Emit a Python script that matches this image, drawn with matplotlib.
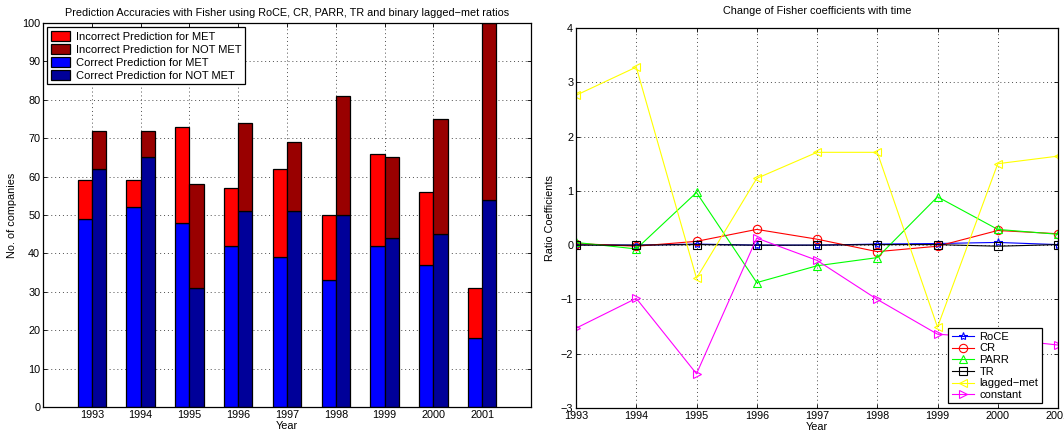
import numpy as np
import matplotlib
matplotlib.use("Agg")
import matplotlib.pyplot as plt
from matplotlib.patches import Patch

plt.rcParams['font.family'] = ['Liberation Sans', 'DejaVu Sans']
plt.rcParams['font.size'] = 7.8

years = [1993, 1994, 1995, 1996, 1997, 1998, 1999, 2000, 2001]

# companies per year: correct predictions and totals (bar tops)
met_correct = [49, 52, 48, 42, 39, 33, 42, 37, 18]
met_total = [59, 59, 73, 57, 62, 50, 66, 56, 31]
notmet_correct = [62, 65, 31, 51, 51, 50, 44, 45, 54]
notmet_total = [72, 72, 58, 74, 69, 81, 65, 75, 100]

# Fisher coefficients per year
roce = [0.01, 0.0, 0.02, 0.0, 0.0, 0.02, 0.03, 0.05, 0.01]
cr = [0.03, -0.02, 0.07, 0.29, 0.11, -0.12, -0.02, 0.27, 0.21]
parr = [0.05, -0.07, 0.97, -0.69, -0.38, -0.23, 0.89, 0.29, 0.20]
tr = [0.0, 0.0, 0.01, 0.0, 0.0, 0.01, 0.01, -0.02, 0.01]
lagged = [2.76, 3.28, -0.61, 1.23, 1.71, 1.71, -1.51, 1.50, 1.64]
const = [-1.53, -0.98, -2.37, 0.13, -0.28, -1.00, -1.64, -1.72, -1.84]

W, H = 1064, 438
fig = plt.figure(figsize=(W / 100, H / 100), dpi=100)

def box(x0, y0, x1, y1):
    return [x0 / W, 1 - y1 / H, (x1 - x0) / W, (y1 - y0) / H]

def matlab_style(ax):
    ax.tick_params(direction='in', top=True, right=True, length=3, width=0.6, pad=2)
    ax.grid(True, linestyle=(0, (1, 3)), color='0.3', linewidth=0.7)
    ax.set_axisbelow(True)
    for s in ax.spines.values():
        s.set_linewidth(0.9)

# bar chart
ax1 = fig.add_axes(box(43, 23, 531, 407))
x = np.array(years)
met_c = np.array(met_correct)
met_i = np.array(met_total) - met_c
nm_c = np.array(notmet_correct)
nm_i = np.array(notmet_total) - nm_c
w = 0.29
ek = dict(edgecolor='k', linewidth=0.9)
ax1.bar(x - w / 2, met_c, w, color=(0, 0, 1), **ek)
ax1.bar(x - w / 2, met_i, w, bottom=met_c, color=(1, 0, 0), **ek)
ax1.bar(x + w / 2, nm_c, w, color=(0, 0, 0.6), **ek)
ax1.bar(x + w / 2, nm_i, w, bottom=nm_c, color=(0.6, 0, 0), **ek)
ax1.set_xlim(1992, 2002)
ax1.set_ylim(0, 100)
ax1.set_xticks(years)
ax1.set_yticks(range(0, 101, 10))
matlab_style(ax1)
ax1.set_xlabel('Year', labelpad=1)
ax1.set_ylabel('No. of companies', labelpad=4)
ax1.set_title('Prediction Accuracies with Fisher using RoCE, CR, PARR, TR and binary lagged\u2212met ratios',
              fontsize=7.8, pad=5)
handles = [Patch(facecolor=(1, 0, 0), **ek), Patch(facecolor=(0.6, 0, 0), **ek),
           Patch(facecolor=(0, 0, 1), **ek), Patch(facecolor=(0, 0, 0.6), **ek)]
labels = ['Incorrect Prediction for MET', 'Incorrect Prediction for NOT MET',
          'Correct Prediction for MET', 'Correct Prediction for NOT MET']
leg = ax1.legend(handles, labels, loc='upper left', fontsize=8, fancybox=False,
                 framealpha=1, edgecolor='k', borderaxespad=0.4, handlelength=1.7,
                 handleheight=1.0, labelspacing=0.2, borderpad=0.3, handletextpad=0.6)
leg.get_frame().set_linewidth(0.9)

# coefficient lines
ax2 = fig.add_axes(box(576, 28, 1058, 408))
mk = dict(markerfacecolor='none', markersize=6, linewidth=0.8, markeredgewidth=0.8)
ax2.plot(years, roce, '-*', color=(0, 0, 1), label='RoCE', **mk)
ax2.plot(years, cr, '-o', color=(1, 0, 0), label='CR', **mk)
ax2.plot(years, parr, '-^', color=(0, 1, 0), label='PARR', **mk)
ax2.plot(years, tr, '-s', color='k', label='TR', **mk)
ax2.plot(years, lagged, '-<', color=(1, 1, 0), label='lagged\u2212met', **mk)
ax2.plot(years, const, '->', color=(1, 0, 1), label='constant', **mk)
ax2.set_xlim(1993, 2001)
ax2.set_ylim(-3, 4)
ax2.set_xticks(years)
ax2.set_yticks(range(-3, 5))
matlab_style(ax2)
ax2.set_xlabel('Year', labelpad=1)
ax2.set_ylabel('Ratio Coefficients', labelpad=4)
ax2.set_title('Change of Fisher coefficients with time', fontsize=7.8, pad=10)
leg2 = ax2.legend(loc='lower right', fontsize=8, fancybox=False, framealpha=1,
                  edgecolor='k', bbox_to_anchor=(0.966, 0.012), borderaxespad=0,
                  handlelength=2.0, labelspacing=0.15, borderpad=0.3, handletextpad=0.5)
leg2.get_frame().set_linewidth(0.9)

fig.savefig('out.png', dpi=100)
